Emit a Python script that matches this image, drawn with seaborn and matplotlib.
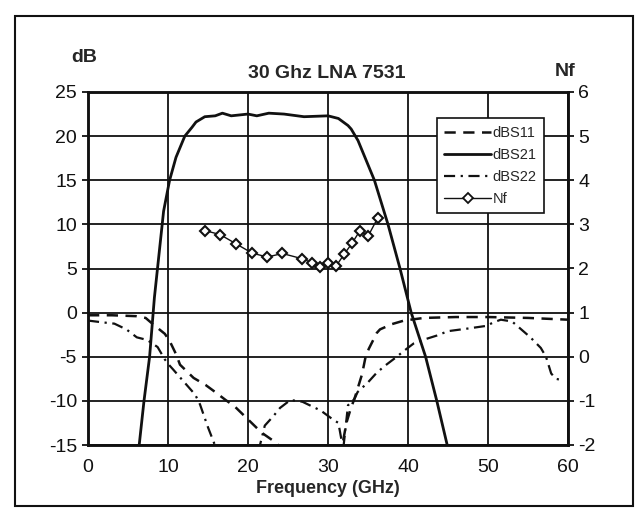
import numpy as np
import pandas as pd
import matplotlib
matplotlib.use('Agg')
import matplotlib.pyplot as plt
from matplotlib.lines import Line2D
from matplotlib.patches import Rectangle
import seaborn as sns

# dBS21 (solid)
f_s21 = [6.4, 7.0, 7.7, 8.3, 9.45, 10.2, 11.0, 12.1, 13.0, 13.5, 14.6, 15.9, 16.8, 17.9, 20.0,
         21.1, 22.6, 24.5, 27.0, 30.0, 31.3, 32.5, 32.9, 33.75, 35.8, 37.5, 39.0, 40.4, 42.2, 43.6, 44.9]
s21 = [-15, -10, -5, 1.7, 11.5, 15, 17.6, 20, 21.0, 21.6, 22.2, 22.3, 22.6, 22.3, 22.5,
       22.3, 22.6, 22.5, 22.2, 22.3, 22.0, 21.2, 20.8, 19.5, 15, 10, 5, 0, -5, -10, -15]

# dBS11 (dashed)
f_s11 = [0, 3, 6, 7.2, 8.1, 9.6, 10.2, 11.0, 11.5, 13.2, 14.7, 15.9, 17.2, 18.3, 21.7, 23.6, 25,
         28, 31, 31.8, 32.3, 32.8, 33.4, 34.25, 34.7, 35.1, 36.1, 36.5, 38, 39.5, 42, 46, 50, 55, 60]
s11 = [-0.3, -0.3, -0.4, -0.6, -1.3, -2.4, -3.2, -4.7, -5.9, -7.4, -8.2, -9.0, -9.9, -10.6, -13.6, -14.8, -16.5,
       -18, -17, -15, -12.5, -11, -9.5, -7, -5, -4.1, -2.3, -1.9, -1.3, -0.9, -0.6, -0.5, -0.5, -0.6, -0.8]

# dBS22 (dash-dot)
f_s22 = [0, 1.8, 3.3, 4.8, 6.1, 7.4, 8.7, 9.6, 10.2, 10.6, 13.4, 14.0, 14.5, 15.0, 15.6, 16.5, 18, 20,
         21.5, 22.1, 23.2, 24.0, 25.3, 26.8, 29.1, 30.6, 31.3, 31.9, 32.2, 32.5, 33.3, 33.7, 35, 36, 37,
         38.6, 39.4, 40.7, 42.2, 43.6, 45, 47.5, 49.8, 50.7, 51.6, 53, 53.9, 55.3, 56.6, 57.25, 57.9, 58.5, 59]
s22 = [-0.9, -1.1, -1.25, -1.9, -2.8, -3.1, -3.9, -5.3, -6.0, -6.4, -9.3, -10.4, -11.7, -13, -14.4, -16.5, -19, -17,
       -15, -12.8, -11.7, -10.8, -9.9, -10.1, -11.1, -12.1, -12.5, -15.5, -13, -10.5, -9.8, -9.0, -7.9, -6.9, -6.1,
       -5.0, -4.4, -3.5, -3.0, -2.6, -2.1, -1.8, -1.5, -1.1, -0.8, -1.0, -1.7, -2.8, -4.0, -5.0, -6.9, -7.5, -7.6]

# Nf (right axis, diamonds)
f_nf = [14.6, 16.5, 18.5, 20.5, 22.4, 24.3, 26.8, 28, 29, 30, 31, 32, 33, 34, 35, 36.2]
nf = [2.86, 2.77, 2.56, 2.35, 2.26, 2.34, 2.22, 2.13, 2.04, 2.13, 2.05, 2.32, 2.57, 2.86, 2.73, 3.14]

sns.set_style('white')
plt.rcParams['font.family'] = ['Liberation Sans', 'DejaVu Sans']
plt.rcParams['axes.unicode_minus'] = False

fig = plt.figure(figsize=(6.42, 5.2), dpi=100)
ax = fig.add_axes([88 / 642, 1 - 445 / 520, 480 / 642, 353 / 520])
ax2 = ax.twinx()

ink = '#111111'
sns.lineplot(x=f_s11, y=s11, ax=ax, color=ink, lw=1.8, sort=False,
             linestyle=(0, (4.5, 3)))
sns.lineplot(x=f_s21, y=s21, ax=ax, color=ink, lw=2.0, sort=False)
sns.lineplot(x=f_s22, y=s22, ax=ax, color=ink, lw=1.6, sort=False,
             linestyle=(0, (5, 2.5, 1, 2.5)))
sns.lineplot(x=f_nf, y=nf, ax=ax2, color=ink, lw=1.0, sort=False, marker='D',
             markersize=5.5, markerfacecolor='white', markeredgecolor=ink, markeredgewidth=1.5)

ax.set_xlim(0, 60)
ax.set_ylim(-15, 25)
ax2.set_ylim(-2, 6)
ax.set_xticks(range(0, 61, 10))
ax.set_yticks(range(-15, 26, 5))
ax2.set_yticks(range(-2, 7, 1))
ax.grid(True, color=ink, lw=1.3)
ax2.grid(False)
for a in (ax, ax2):
    for s in a.spines.values():
        s.set_color(ink)
        s.set_linewidth(1.8)
ax.tick_params(axis='both', labelsize=14, colors=ink, length=4, width=1.3, direction='out',
               left=True, bottom=False, pad=4)
ax.tick_params(axis='x', pad=6)
ax2.tick_params(axis='y', labelsize=14, colors=ink, length=4, width=1.3, direction='out', right=True)
ax.set_xlabel('Frequency (GHz)', fontsize=13, fontweight='bold', labelpad=3)
ax.set_ylabel('')
ax2.set_ylabel('')

fig.text(84 / 642, 1 - 58 / 520, 'dB', fontsize=14, fontweight='bold', ha='center', va='center')
fig.text(327 / 642, 1 - 73 / 520, '30 Ghz LNA 7531', fontsize=14, fontweight='bold', ha='center', va='center')
fig.text(565 / 642, 1 - 72 / 520, 'Nf', fontsize=14, fontweight='bold', ha='center', va='center')

handles = [
    Line2D([], [], color=ink, lw=1.8, linestyle=(0, (4.5, 3))),
    Line2D([], [], color=ink, lw=2.0),
    Line2D([], [], color=ink, lw=1.6, linestyle=(0, (5, 2.5, 1, 2.5))),
    Line2D([], [], color=ink, lw=1.0, marker='D', markersize=5, markerfacecolor='white',
           markeredgecolor=ink, markeredgewidth=1.3),
]
leg = ax2.legend(handles, ['dBS11', 'dBS21', 'dBS22', 'Nf'], loc='upper left',
                 bbox_to_anchor=(0.727, 0.925), borderaxespad=0, fontsize=10.5, frameon=True,
                 fancybox=False, framealpha=1, edgecolor=ink, handlelength=3.2, handletextpad=0.1,
                 labelspacing=0.55, borderpad=0.5)
leg.get_frame().set_linewidth(1.2)

fig.patches.append(Rectangle((15 / 642, 1 - 506 / 520), 618 / 642, 490 / 520, transform=fig.transFigure,
                             fill=False, edgecolor=ink, lw=1.5))

fig.savefig('out.png', dpi=100, facecolor='white')
